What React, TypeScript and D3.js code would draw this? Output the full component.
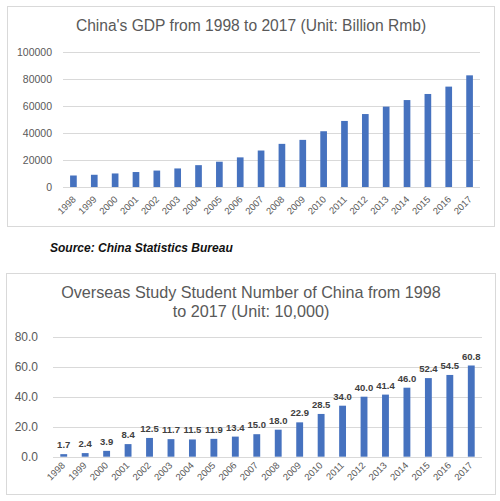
import React from "react";
import * as d3 from "d3";

const years = ["1998","1999","2000","2001","2002","2003","2004","2005","2006","2007","2008","2009","2010","2011","2012","2013","2014","2015","2016","2017"];
const gdp = [8519, 9056, 10028, 11086, 12172, 13742, 16184, 18732, 21944, 27023, 31952, 34908, 41303, 48930, 54037, 59524, 64397, 68905, 74359, 82712];
const students = [1.7, 2.4, 3.9, 8.4, 12.5, 11.7, 11.5, 11.9, 13.4, 15.0, 18.0, 22.9, 28.5, 34.0, 40.0, 41.4, 46.0, 52.4, 54.5, 60.8];
const gdpTicks = [0, 20000, 40000, 60000, 80000, 100000];
const studentTicks = [0, 20, 40, 60, 80];

const BAR = "#4672bf";
const GRID = "#d9d9d9";
const TXT = "#595959";
const FONT = "'Liberation Sans', Arial, sans-serif";

export default function App() {
  // top chart scales
  const x1 = d3.scaleBand<string>().domain(years).range([63, 480]).paddingInner(0.68).paddingOuter(0.34);
  const y1 = d3.scaleLinear().domain([0, 100000]).range([187, 52]);
  // bottom chart scales
  const x2 = d3.scaleBand<string>().domain(years).range([53, 482]).paddingInner(0.68).paddingOuter(0.34);
  const y2 = d3.scaleLinear().domain([0, 80]).range([456.7, 336.7]);

  return (
    <svg width={500} height={501} style={{ position: "absolute", left: 0, top: 0, background: "#fff" }} fontFamily={FONT}>
      {/* Top chart */}
      <rect x={7.5} y={6.5} width={487} height={220} fill="#fff" stroke={GRID} strokeWidth={1} />
      <text x={251} y={31} textAnchor="middle" fontSize={15.6} fill={TXT}>China's GDP from 1998 to 2017 (Unit: Billion Rmb)</text>
      {gdpTicks.map((t) => (
        <g key={t}>
          <line x1={63} x2={480} y1={Math.round(y1(t)) + 0.5} y2={Math.round(y1(t)) + 0.5} stroke={GRID} />
          <text x={52} y={y1(t) + 3.5} textAnchor="end" fontSize={10.5} fill={TXT}>{t}</text>
        </g>
      ))}
      {years.map((yr, i) => (
        <rect key={yr} x={x1(yr)} y={y1(gdp[i])} width={x1.bandwidth()} height={y1(0) - y1(gdp[i])} fill={BAR} />
      ))}
      {years.map((yr) => {
        const cx = (x1(yr) as number) + x1.bandwidth() / 2 + 3;
        return (
          <text key={yr} transform={`translate(${cx},${200}) rotate(-45)`} textAnchor="end" fontSize={9.5} fill={TXT}>{yr}</text>
        );
      })}
      <text x={50} y={251.5} fontSize={12} fontWeight="bold" fontStyle="italic" fill="#111">Source: China Statistics Bureau</text>

      {/* Bottom chart */}
      <rect x={6.5} y={273.5} width={489} height={221} fill="#fff" stroke={GRID} strokeWidth={1} />
      <text x={251} y={298} textAnchor="middle" fontSize={16.2} fill={TXT}>Overseas Study Student Number of China from 1998</text>
      <text x={251} y={317} textAnchor="middle" fontSize={16.2} fill={TXT}>to 2017 (Unit: 10,000)</text>
      {studentTicks.map((t) => (
        <g key={t}>
          <line x1={53} x2={482} y1={Math.round(y2(t)) + 0.5} y2={Math.round(y2(t)) + 0.5} stroke={GRID} />
          <text x={38} y={y2(t) + 4} textAnchor="end" fontSize={12} fill={TXT}>{t.toFixed(1)}</text>
        </g>
      ))}
      {years.map((yr, i) => (
        <g key={yr}>
          <rect x={x2(yr)} y={y2(students[i])} width={x2.bandwidth()} height={y2(0) - y2(students[i])} fill={BAR} />
          <text x={(x2(yr) as number) + x2.bandwidth() / 2} y={y2(students[i]) - 6} textAnchor="middle" fontSize={9.5} fontWeight="bold" fill="#404040">{students[i].toFixed(1)}</text>
        </g>
      ))}
      {years.map((yr) => {
        const cx = (x2(yr) as number) + x2.bandwidth() / 2 + 2;
        return (
          <text key={yr} transform={`translate(${cx},${466}) rotate(-45)`} textAnchor="end" fontSize={9.5} fill={TXT}>{yr}</text>
        );
      })}
    </svg>
  );
}
